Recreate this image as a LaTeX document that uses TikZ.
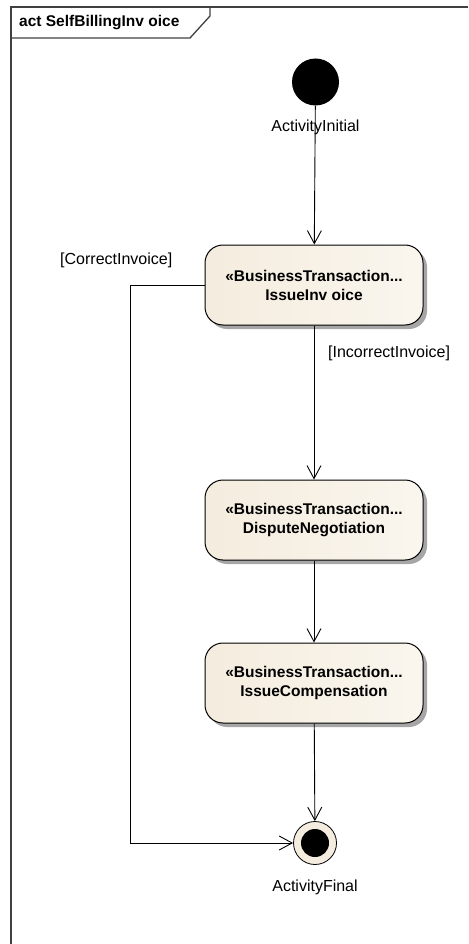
\documentclass[tikz,border=0pt]{standalone}
\usepackage{fontspec}
\setmainfont{Liberation Sans}
\usetikzlibrary{arrows.meta,shapes.misc}
\begin{document}
\begin{tikzpicture}[x=1pt,y=-1pt,
  actbox/.style={rounded corners=18pt, draw=black, line width=1pt,
    left color=actfillL, right color=actfillR, minimum width=218pt, minimum height=80pt,
    align=center, font=\fontsize{15.5}{19}\selectfont\bfseries, inner sep=0pt},
  shadowbox/.style={rounded corners=18pt, fill=black!35, draw=none},
  flow/.style={draw=black, line width=0.9pt, -{Straight Barb[length=13pt,width=14pt,line width=0.9pt]}},
  lbl/.style={font=\fontsize{16}{18}\selectfont, inner sep=0pt},
  frameline/.style={draw=black!75, line width=1.3pt}]
\definecolor{actfillL}{RGB}{244,236,222}
\definecolor{actfillR}{RGB}{250,246,238}
\useasboundingbox (0,0) rectangle (468,944);
% frame
\draw[frameline] (11,944) -- (11,7) -- (468,7);
\draw[frameline] (11,38) -- (190,38) -- (210,16) -- (210,7);
\node[anchor=west, font=\fontsize{15.5}{18}\selectfont\bfseries, inner sep=0pt] (title) at (19,23) {act SelfBillingInv oice};
% initial
\node[circle, fill=black, minimum size=47pt, inner sep=0pt] (init) at (315.5,82) {};
\node[lbl] (initlbl) at (315.5,127) {ActivityInitial};
% shadows
\fill[shadowbox] (209,249) rectangle (427,329);
\fill[shadowbox] (209,484) rectangle (427,564);
\fill[shadowbox] (209,647) rectangle (427,727);
% boxes
\node[actbox] (b1) at (314,285) {«BusinessTransaction...\\IssueInv oice};
\node[actbox] (b2) at (314,520) {«BusinessTransaction...\\DisputeNegotiation};
\node[actbox] (b3) at (314,683) {«BusinessTransaction...\\IssueCompensation};
% final
\node[circle, draw=black, line width=0.8pt, fill=actfillL, minimum size=43pt, inner sep=0pt] (fin) at (315,843) {};
\node[circle, fill=black, minimum size=28pt, inner sep=0pt] (finin) at (315,843) {};
\node[lbl] (finlbl) at (315,887) {ActivityFinal};
% flows
\draw[flow] (init) -- (b1);
\draw[flow] (b1) -- (b2);
\draw[flow] (b2) -- (b3);
\draw[flow] (b3) -- (fin);
\coordinate (c1) at (130,285);
\coordinate (c2) at (130,843);
\draw[flow] (b1.west) -- (c1) -- (c2) -- (fin.west);
\node[lbl, anchor=west] (l1) at (60,260) {[CorrectInvoice]};
\node[lbl, anchor=west] (l2) at (328,353) {[IncorrectInvoice]};
\end{tikzpicture}
\end{document}
